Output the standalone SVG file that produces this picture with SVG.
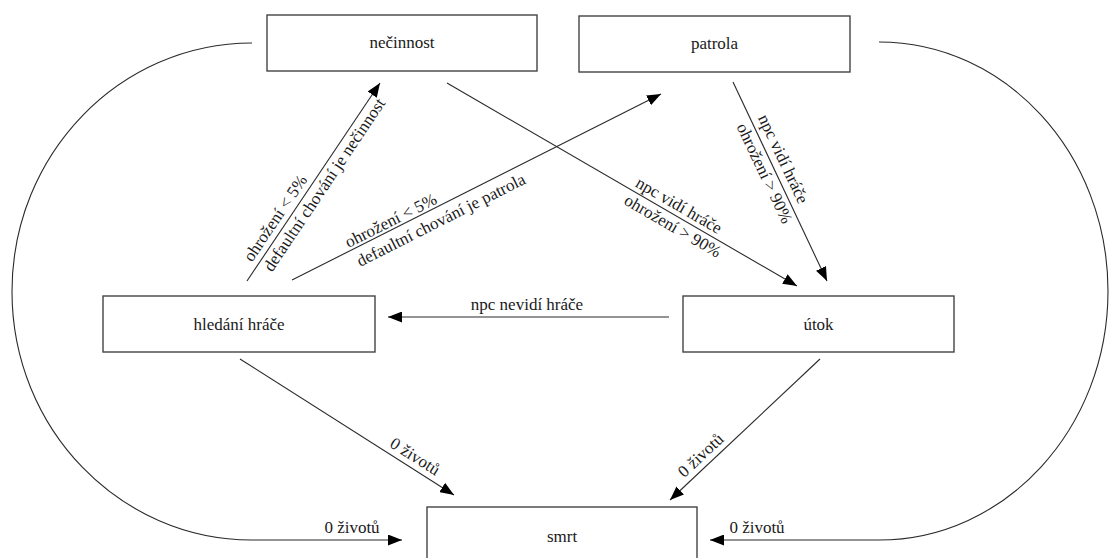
<svg xmlns="http://www.w3.org/2000/svg" width="1115" height="558" viewBox="0 0 1115 558">
<style>
  .box { fill: #ffffff; stroke: #444444; stroke-width: 1.4; }
  .ntext { font-family: 'Liberation Serif', 'Times New Roman', 'DejaVu Serif', serif; font-size: 17px; fill: #1a1a1a; text-anchor: middle; }
  .edge { fill: none; stroke: #2a2a2a; stroke-width: 1.1; }
  .lbl { font-family: 'Liberation Serif', 'Times New Roman', 'DejaVu Serif', serif; font-size: 17px; fill: #1a1a1a; text-anchor: middle; }
</style>
<defs>
  <marker id="arr" markerUnits="userSpaceOnUse" markerWidth="15" markerHeight="11" refX="14" refY="5.5" orient="auto">
    <path d="M0,0 L14,5.5 L0,11 z" fill="#000000"/>
  </marker>
</defs>
<rect width="1115" height="558" fill="#ffffff"/>

<g id="connectors">
  <line class="edge" x1="247" y1="281" x2="380" y2="83" marker-end="url(#arr)"/>
  <line class="edge" x1="292" y1="280" x2="661" y2="94" marker-end="url(#arr)"/>
  <line class="edge" x1="447" y1="83" x2="797" y2="286" marker-end="url(#arr)"/>
  <line class="edge" x1="733" y1="82" x2="827" y2="281" marker-end="url(#arr)"/>
  <line class="edge" x1="669" y1="317" x2="388" y2="317" marker-end="url(#arr)"/>
  <line class="edge" x1="240" y1="359" x2="454" y2="495" marker-end="url(#arr)"/>
  <line class="edge" x1="820" y1="359" x2="670" y2="500" marker-end="url(#arr)"/>
  <path class="edge" d="M252,43 C119.5,43 12,154.3 12,291.5 C12,428.7 119.5,540 252,540 L402,540" marker-end="url(#arr)"/>
  <path class="edge" d="M879,42 C1005.5,42 1108,153.5 1108,291 C1108,428.5 1005.5,540 879,540 L710,540" marker-end="url(#arr)"/>

  <g transform="translate(284.9,224.6) rotate(-56.1)"><text class="lbl" x="0" y="-6" font-family="Liberation Serif, DejaVu Serif, serif">ohrožení &lt; 5%</text></g>
  <g transform="translate(315.6,178.9) rotate(-56.1)"><text class="lbl" x="0" y="16">defaultní chování je nečinnost</text></g>
  <g transform="translate(394.7,228.2) rotate(-26.75)"><text class="lbl" x="0" y="-3">ohrožení &lt; 5%</text></g>
  <g transform="translate(434.9,208) rotate(-26.75)"><text class="lbl" x="0" y="19">defaultní chování je patrola</text></g>
  <g transform="translate(673.6,214.5) rotate(30.1)"><text class="lbl" x="0" y="-5">npc vidí hráče</text></g>
  <g transform="translate(678,217) rotate(30.1)"><text class="lbl" x="0" y="16">ohrožení &gt; 90%</text></g>
  <g transform="translate(771.9,164.3) rotate(64.7)"><text class="lbl" x="0" y="-7">npc vidí hráče</text></g>
  <g transform="translate(774,168.8) rotate(64.7)"><text class="lbl" x="0" y="16">ohrožení &gt; 90%</text></g>
  <text class="lbl" x="527" y="310">npc nevidí hráče</text>
  <g transform="translate(408.8,466.2) rotate(32.4)"><text class="lbl" x="0" y="-6">0 životů</text></g>
  <g transform="translate(708.6,463.7) rotate(-43.2)"><text class="lbl" x="0" y="-6">0 životů</text></g>
  <text class="lbl" x="352" y="533">0 životů</text>
  <text class="lbl" x="757" y="533">0 životů</text>
</g>

<g id="necinnost">
  <rect class="box" x="267" y="15" width="270" height="56"/>
  <text class="ntext" x="402" y="48">nečinnost</text>
</g>
<g id="patrola">
  <rect class="box" x="579" y="16" width="271" height="56"/>
  <text class="ntext" x="714.5" y="49">patrola</text>
</g>
<g id="hledani">
  <rect class="box" x="103" y="296" width="272" height="56"/>
  <text class="ntext" x="239" y="330">hledání hráče</text>
</g>
<g id="utok">
  <rect class="box" x="683" y="296" width="271" height="56"/>
  <text class="ntext" x="818.5" y="330">útok</text>
</g>
<g id="smrt">
  <rect class="box" x="427" y="507" width="270" height="56"/>
  <text class="ntext" x="562" y="542">smrt</text>
</g>
</svg>
